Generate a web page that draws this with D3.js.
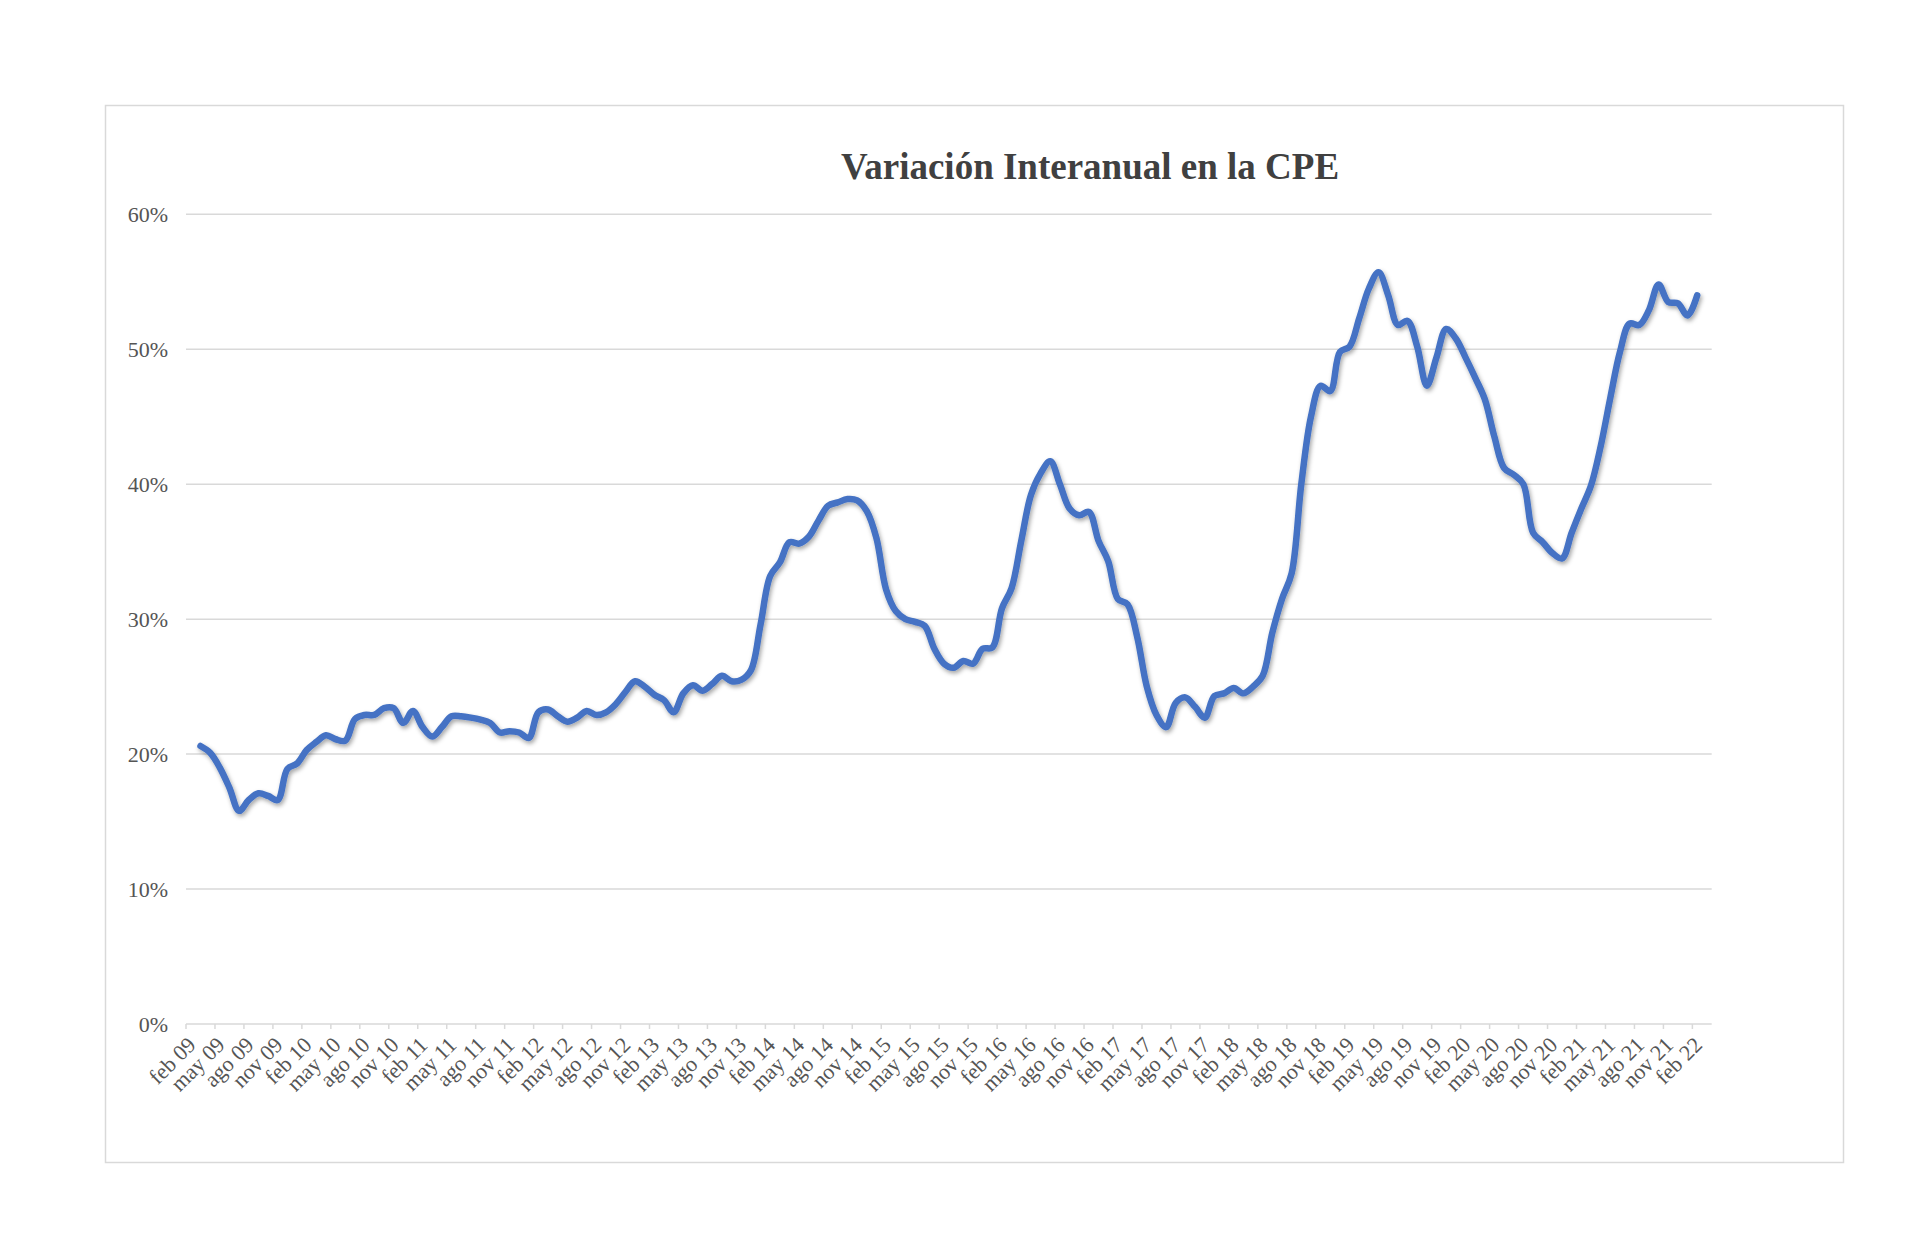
<!DOCTYPE html>
<html>
<head>
<meta charset="utf-8">
<script src="https://cdn.jsdelivr.net/npm/d3@7"></script>
<style>
  html, body { margin: 0; padding: 0; background: #ffffff; }
  svg { display: block; }
</style>
</head>
<body>
<svg id="chart" width="1920" height="1252"></svg>
<script>
// ---- DATA ----
const title = "Variación Interanual en la CPE";
const monthNames = ["ene","feb","mar","abr","may","jun","jul","ago","sep","oct","nov","dic"];
// categories: feb 09 ... mar 22 (158 months)
const categories = [];
for (let y = 2009; y <= 2022; y++) {
  for (let m = 0; m < 12; m++) {
    if (y === 2009 && m < 1) continue;
    if (y === 2022 && m > 2) continue;
    categories.push(monthNames[m] + " " + String(y).slice(2));
  }
}
// year-on-year variation (%), feb 09 and mar 22 have no value
const values = [
  null,
  20.6, 20.1, 19.0, 17.5, 15.8, 16.6, 17.1, 16.9, 16.6, 18.9,
  19.3, 20.3, 20.9, 21.4, 21.1, 21.0, 22.6, 22.9, 22.9, 23.4,
  23.4, 22.3, 23.2, 22.0, 21.3, 22.0, 22.8, 22.8, 22.7, 22.55,
  22.3, 21.6, 21.7, 21.6, 21.2, 23.1, 23.3, 22.8, 22.4, 22.7,
  23.2, 22.9, 23.1, 23.7, 24.6, 25.4, 25.0, 24.4, 24.0, 23.1,
  24.5, 25.1, 24.7, 25.2, 25.8, 25.4, 25.5, 26.2, 29.6, 33.2,
  34.2, 35.7, 35.6, 36.1, 37.3, 38.4, 38.65, 38.9, 38.8, 38.0,
  36.0, 32.2, 30.6, 30.0, 29.8, 29.5, 27.8, 26.7, 26.4, 26.9,
  26.7, 27.8, 27.9, 30.8, 32.3, 35.8, 39.2, 40.8, 41.7, 40.0,
  38.2, 37.7, 37.95, 35.8, 34.3, 31.5, 31.1, 28.7, 25.0, 22.9,
  22.0, 23.8, 24.2, 23.5, 22.7, 24.3, 24.5, 24.9, 24.5, 25.0,
  25.8, 29.0, 31.5, 33.4, 40.0, 45.0, 47.3, 46.9, 49.8, 50.2,
  52.3, 54.5, 55.7, 54.0, 51.8, 52.1, 50.2, 47.3, 49.4, 51.5,
  50.8, 49.4, 47.9, 46.3, 43.5, 41.2, 40.7, 40.0, 36.4, 35.7,
  34.9, 34.5, 36.4, 38.2, 39.9, 42.8, 46.4, 49.8, 51.9, 51.8,
  52.9, 54.8, 53.5, 53.4, 52.5, 54.0,
  null
];
const xTickLabels = [
  "feb 09","may 09","ago 09","nov 09","feb 10","may 10","ago 10","nov 10",
  "feb 11","may 11","ago 11","nov 11","feb 12","may 12","ago 12","nov 12",
  "feb 13","may 13","ago 13","nov 13","feb 14","may 14","ago 14","nov 14",
  "feb 15","may 15","ago 15","nov 15","feb 16","may 16","ago 16","nov 16",
  "feb 17","may 17","ago 17","nov 17","feb 18","may 18","ago 18","nov 18",
  "feb 19","may 19","ago 19","nov 19","feb 20","may 20","ago 20","nov 20",
  "feb 21","may 21","ago 21","nov 21","feb 22"
];
const yTicks = [0, 10, 20, 30, 40, 50, 60];

// ---- LAYOUT ----
const svg = d3.select("#chart");
const plot = { left: 186, right: 1711.7, top: 214.3, bottom: 1024 };
const textGray = "#555555";
const gridGray = "#d9d9d9";
const serif = "'Liberation Serif', 'Times New Roman', serif";

const defs = svg.append("defs");
const f = defs.append("filter").attr("id", "shadow")
  .attr("x", "-5%").attr("y", "-5%").attr("width", "110%").attr("height", "110%");
f.append("feDropShadow").attr("dx", 1.5).attr("dy", 2.5).attr("stdDeviation", 2)
  .attr("flood-color", "#000").attr("flood-opacity", 0.35);

// chart border
svg.append("rect")
  .attr("x", 105.5).attr("y", 105.5).attr("width", 1738).attr("height", 1057)
  .attr("fill", "#fff").attr("stroke", gridGray).attr("stroke-width", 1.5);

const x = d3.scaleBand().domain(categories).range([plot.left, plot.right])
  .paddingInner(0).paddingOuter(0);
const y = d3.scaleLinear().domain([0, 60]).range([plot.bottom, plot.top]);
const cx = d => x(d) + x.bandwidth() / 2;

// gridlines
svg.append("g").selectAll("line").data(yTicks.filter(t => t > 0)).join("line")
  .attr("x1", plot.left).attr("x2", plot.right)
  .attr("y1", d => y(d)).attr("y2", d => y(d))
  .attr("stroke", gridGray).attr("stroke-width", 1.5);

// y labels
svg.append("g").selectAll("text").data(yTicks).join("text")
  .attr("x", 168).attr("y", d => y(d))
  .attr("text-anchor", "end").attr("dominant-baseline", "central")
  .attr("font-family", serif)
  .attr("font-size", 22).attr("fill", textGray)
  .text(d => d + "%");

// x axis line
svg.append("line")
  .attr("x1", plot.left).attr("x2", plot.right)
  .attr("y1", plot.bottom).attr("y2", plot.bottom)
  .attr("stroke", gridGray).attr("stroke-width", 1.5);

// x ticks (at category boundaries every 3 months)
const tickCats = categories.filter((c, i) => i % 3 === 0 && i <= 156);
svg.append("g").selectAll("line").data(tickCats).join("line")
  .attr("x1", d => x(d)).attr("x2", d => x(d))
  .attr("y1", plot.bottom).attr("y2", plot.bottom + 5)
  .attr("stroke", gridGray).attr("stroke-width", 1.5);

// x labels
svg.append("g").selectAll("text").data(xTickLabels).join("text")
  .attr("transform", d => `translate(${cx(d) + 1},${plot.bottom + 17}) rotate(-45)`)
  .attr("text-anchor", "end").attr("dominant-baseline", "central")
  .attr("font-family", serif)
  .attr("font-size", 22).attr("fill", textGray)
  .text(d => d);

// line
const series = categories.map((c, i) => ({ c, v: values[i] }));
const line = d3.line()
  .defined(d => d.v !== null)
  .x(d => cx(d.c)).y(d => y(d.v))
  .curve(d3.curveCatmullRom.alpha(0.5));
svg.append("path").datum(series)
  .attr("d", line)
  .attr("fill", "none").attr("stroke", "#4472C4")
  .attr("stroke-width", 6.5).attr("stroke-linejoin", "round").attr("stroke-linecap", "round")
  .attr("filter", "url(#shadow)");

// title
svg.append("text")
  .attr("x", 1090).attr("y", 179)
  .attr("text-anchor", "middle")
  .attr("font-family", serif)
  .attr("font-weight", "bold").attr("font-size", 37).attr("fill", "#404040")
  .text(title);
</script>
</body>
</html>
